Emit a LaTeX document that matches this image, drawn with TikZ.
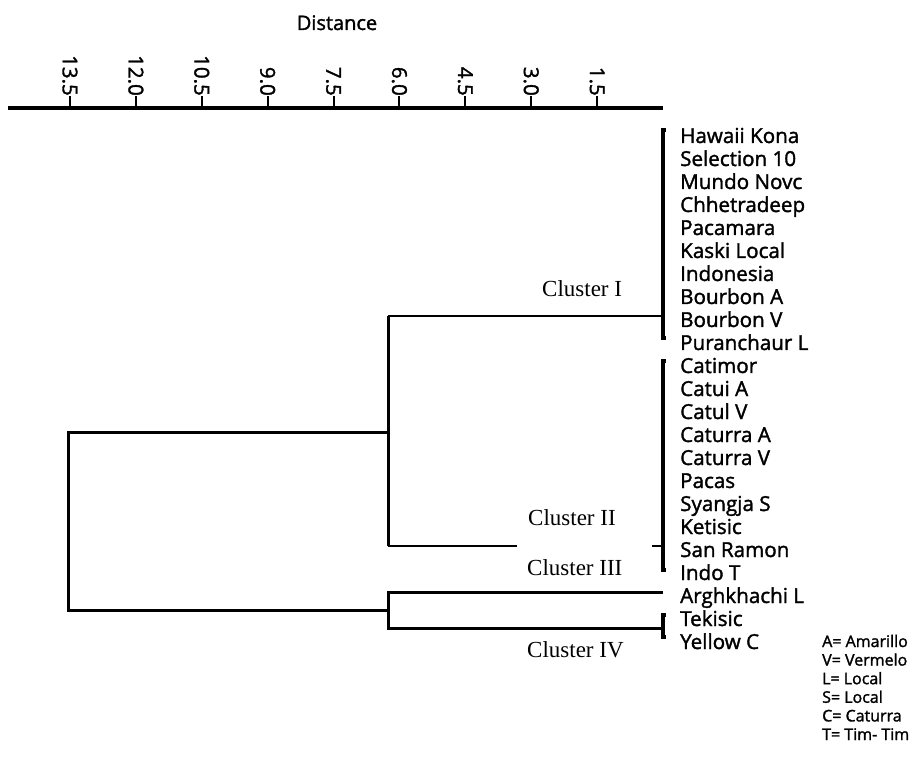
\documentclass[tikz,border=0pt]{standalone}
\usepackage{fontspec}
\setmainfont{Open Sans}[FakeBold=1.6]
\newfontfamily\serifc{Liberation Serif}
\begin{document}
\begin{tikzpicture}[x=1pt,y=-1pt,
  leaf/.style={anchor=base west,inner sep=0pt,font=\fontsize{20.6}{20.6}\selectfont},
  ticklab/.style={rotate=-90,anchor=east,inner sep=0pt,font=\fontsize{20.5}{20.5}\selectfont},
  clab/.style={anchor=base west,inner sep=0pt,font=\serifc\fontsize{23}{23}\selectfont},
  legendtxt/.style={anchor=base west,inner sep=0pt,font=\fontsize{16}{16}\selectfont},
  heavy/.style={line width=3pt},
  light/.style={line width=1.6pt},
  bracketline/.style={line width=3.2pt},
]
\useasboundingbox (0,0) rectangle (910,775);
% title
\node[anchor=base,inner sep=0pt,font=\fontsize{20}{20}\selectfont] (title) at (337,30) {Distance};
% axis
\coordinate (axL) at (8,108);
\coordinate (axR) at (663,108);
\draw[line width=4.5pt] (axL) -- (axR);
\foreach \v [count=\n] in {1.5,3.0,4.5,6.0,7.5,9.0,10.5,12.0,13.5}{
  \coordinate (t\n) at ({663-43.93*\v},108);
  \draw[line width=2pt] (t\n) -- ++(0,-12) coordinate (tt\n);
  \node[ticklab] (tl\n) at (tt\n) {\v};
}
% leaves
\foreach \name [count=\i from 0] in {Hawaii Kona,Selection 10,Mundo Novc,Chhetradeep,Pacamara,Kaski Local,Indonesia,Bourbon A,Bourbon V,Puranchaur L,Catimor,Catui A,Catul V,Caturra A,Caturra V,Pacas,Syangja S,Ketisic,San Ramon,Indo T,Arghkhachi L,Tekisic,Yellow C}{
  \node[leaf] (leaf\i) at (680,{143+23*\i}) {\name};
}
% coordinates of the tree
\coordinate (b1t) at (663,130); \coordinate (b1b) at (663,338); \coordinate (b1m) at (663,316);
\coordinate (b2t) at (663,361); \coordinate (b2b) at (663,570); \coordinate (b2m) at (663,546);
\coordinate (b4t) at (663,615); \coordinate (b4b) at (663,637); \coordinate (b4m) at (663,628);
\coordinate (a3) at (663,592);
\coordinate (j1) at (388,316); \coordinate (j2) at (388,546); \coordinate (j12) at (388,432);
\coordinate (c2e) at (517,546); \coordinate (c2s) at (652,546);
\coordinate (j3) at (388,592); \coordinate (j4) at (388,628); \coordinate (j34) at (388,610);
\coordinate (rt) at (68,432); \coordinate (rb) at (68,610);
% leaf brackets
\draw[bracketline] ([xshift=3pt]b1t) -- (b1t) -- (b1b) -- ([xshift=3pt]b1b);
\draw[bracketline] ([xshift=3pt]b2t) -- (b2t) -- (b2b) -- ([xshift=3pt]b2b);
\draw[bracketline] ([xshift=3pt]b4t) -- (b4t) -- (b4b) -- ([xshift=3pt]b4b);
% cluster I and II
\draw[light] (b1m) -- (j1);
\draw[heavy] (j1) -- (j2);
\draw[light] (j2) -- (c2e);
\draw[light] (c2s) -- (b2m);
% cluster III and IV group
\draw[heavy] (a3) -- (j3) -- (j4) -- (b4m);
% root
\draw[heavy] (j12) -- (rt) -- (rb) -- (j34);
% cluster labels
\node[clab] (cI) at (542,297) {Cluster I};
\node[clab] (cII) at (528,525) {Cluster II};
\node[clab] (cIII) at (527,575) {Cluster III};
\node[clab] (cIV) at (527,657) {Cluster IV};
% legend
\foreach \t [count=\k from 0] in {A= Amarillo,V= Vermelo,L= Local,S= Local,C= Caturra,T= Tim- Tim}{
  \node[legendtxt] (lg\k) at (822,{647+18.6*\k}) {\t};
}
\end{tikzpicture}
\end{document}
